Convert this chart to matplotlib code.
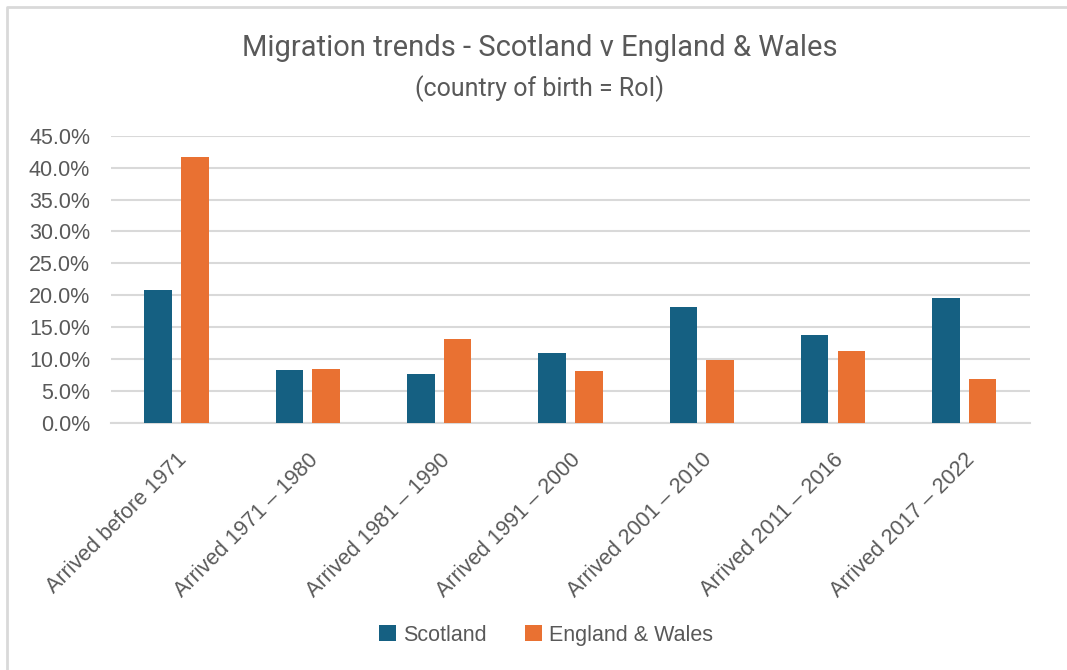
import numpy as np
import matplotlib
matplotlib.use("Agg")
import matplotlib.pyplot as plt
from matplotlib.ticker import PercentFormatter
from matplotlib.lines import Line2D

# data (share of people born in RoI, by arrival period)
categories = [
    "Arrived before 1971",
    "Arrived 1971 \u2013 1980",
    "Arrived 1981 \u2013 1990",
    "Arrived 1991 \u2013 2000",
    "Arrived 2001 \u2013 2010",
    "Arrived 2011 \u2013 2016",
    "Arrived 2017 \u2013 2022",
]
scotland = [0.208, 0.083, 0.077, 0.109, 0.181, 0.138, 0.195]
england_wales = [0.416, 0.085, 0.132, 0.081, 0.099, 0.112, 0.069]
yticks = [0.0, 0.05, 0.10, 0.15, 0.20, 0.25, 0.30, 0.35, 0.40, 0.45]

blue = "#156082"
orange = "#E97132"
grid = "#D9D9D9"
text_grey = "#595959"

plt.rcParams["font.family"] = ["Liberation Sans", "DejaVu Sans"]

fig = plt.figure(figsize=(10.67, 6.70), dpi=100)
ax = fig.add_axes([0.104, 0.3687, 0.8613, 0.4288])

x = np.arange(len(categories))
w = 0.21
ax.bar(x - 0.14, scotland, width=w, color=blue, label="Scotland", zorder=3)
ax.bar(x + 0.14, england_wales, width=w, color=orange, label="England & Wales", zorder=3)

ax.set_xlim(-0.5, len(categories) - 0.5)
ax.set_ylim(0, 0.45)
ax.set_yticks(yticks)
ax.yaxis.set_major_formatter(PercentFormatter(xmax=1, decimals=1))
ax.yaxis.grid(True, color=grid, linewidth=1.5, zorder=0)
ax.set_axisbelow(True)

for s in ["top", "right", "left"]:
    ax.spines[s].set_visible(False)
ax.spines["bottom"].set_color(grid)
ax.spines["bottom"].set_linewidth(1.5)

ax.tick_params(axis="y", length=0, pad=15, labelsize=15.5, labelcolor=text_grey)
ax.tick_params(axis="x", length=0, pad=19, labelsize=15.5, labelcolor=text_grey)
ax.set_xticks(x)
ax.set_xticklabels(categories, rotation=45, ha="right", va="top", rotation_mode="anchor")

# title and subtitle
fig.text(0.506, 0.928, "Migration trends - Scotland v England & Wales",
         ha="center", va="center", fontsize=21, color=text_grey, family=["Roboto", "DejaVu Sans"])
fig.text(0.506, 0.868, "(country of birth = RoI)",
         ha="center", va="center", fontsize=18, color=text_grey, family=["Roboto", "DejaVu Sans"])

ax.legend(loc="center", bbox_to_anchor=(0.512, 0.052), bbox_transform=fig.transFigure,
          ncol=2, frameon=False, fontsize=15.5, labelcolor=text_grey,
          handlelength=0.75, handleheight=0.75, handletextpad=0.35, columnspacing=1.8)

# light frame round the chart area (top and left edges visible)
fx = 7 / 1067
fy = 1 - 7 / 670
fig.add_artist(Line2D([fx, fx, 1.0], [0.0, fy, fy], transform=fig.transFigure,
                      color=grid, linewidth=2))

fig.savefig("out.png", dpi=100, facecolor="white")
